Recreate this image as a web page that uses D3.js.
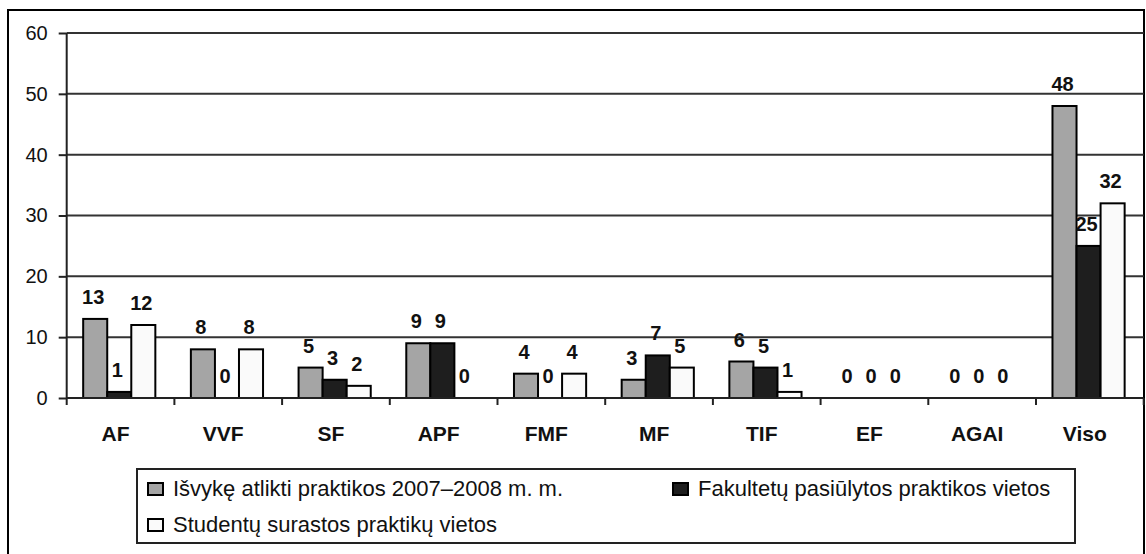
<!DOCTYPE html>
<html>
<head>
<meta charset="utf-8">
<script src="https://cdn.jsdelivr.net/npm/d3@7"></script>
<style>
  body { margin: 0; background: #fff; }
  text { font-family: "Liberation Sans", Arial, sans-serif; }
</style>
</head>
<body>
<script>
// data
var categories = ["AF", "VVF", "SF", "APF", "FMF", "MF", "TIF", "EF", "AGAI", "Viso"];
var seriesNames = ["Išvykę atlikti praktikos 2007–2008 m. m.",
                   "Fakultetų pasiūlytos praktikos vietos",
                   "Studentų surastos praktikų vietos"];
var wentOut = [13, 8, 5, 9, 4, 3, 6, 0, 0, 48];
var offered = [1, 0, 3, 9, 0, 7, 5, 0, 0, 25];
var foundByStudents = [12, 8, 2, 0, 4, 5, 1, 0, 0, 32];
var yTicks = [0, 10, 20, 30, 40, 50, 60];

var colors = ["#a5a5a5", "#1e1e1e", "#fafafa"];

var svgWidth = 1146, svgHeight = 554;
var plot = { left: 66.7, right: 1143.7, top: 33, bottom: 398 };

var svg = d3.select("body").append("svg")
  .attr("width", svgWidth)
  .attr("height", svgHeight);

var data = categories.map(function(c, i) {
  return { cat: c, values: [wentOut[i], offered[i], foundByStudents[i]] };
});

var xScale = d3.scaleBand()
  .domain(categories)
  .range([plot.left, plot.right]);

var xSub = d3.scaleBand()
  .domain([0, 1, 2])
  .range([xScale.bandwidth() * 0.153, xScale.bandwidth() * 0.823]);

var yScale = d3.scaleLinear()
  .domain([0, 60])
  .range([plot.bottom, plot.top]);

// outer frame
svg.append("rect")
  .attr("x", 8).attr("y", 10)
  .attr("width", 1136).attr("height", 548)
  .attr("fill", "none")
  .attr("stroke", "#000")
  .attr("stroke-width", 2);

// gridlines
svg.append("g")
  .selectAll("line")
  .data(yTicks.filter(d => d > 0))
  .enter()
  .append("line")
  .attr("x1", plot.left).attr("x2", plot.right)
  .attr("y1", d => yScale(d)).attr("y2", d => yScale(d))
  .attr("stroke", "#333")
  .attr("stroke-width", 2);

// bars
var groups = svg.append("g")
  .selectAll("g")
  .data(data)
  .enter()
  .append("g")
  .attr("transform", d => `translate(${xScale(d.cat)},0)`);

groups.selectAll("rect")
  .data(d => d.values.map((v, i) => ({ v: v, i: i })).filter(e => e.v > 0))
  .enter()
  .append("rect")
  .attr("x", d => xSub(d.i))
  .attr("y", d => yScale(d.v))
  .attr("width", xSub.bandwidth())
  .attr("height", d => yScale(0) - yScale(d.v))
  .attr("fill", d => colors[d.i])
  .attr("stroke", "#000")
  .attr("stroke-width", 2);

groups.selectAll("text")
  .data(d => d.values.map((v, i) => ({ v: v, i: i })))
  .enter()
  .append("text")
  .attr("x", d => xSub(d.i) + xSub.bandwidth() / 2 - 2)
  .attr("y", d => yScale(d.v) - 15)
  .attr("text-anchor", "middle")
  .attr("font-size", 20)
  .attr("font-weight", "bold")
  .attr("fill", "#111")
  .text(d => d.v);

// y axis
var leftAxis = d3.axisLeft(yScale)
  .tickValues(yTicks)
  .tickSize(8)
  .tickPadding(11);

var yAxis = svg.append("g")
  .attr("transform", `translate(${plot.left},0)`)
  .call(leftAxis);
yAxis.select(".domain").attr("stroke", "#222").attr("stroke-width", 2)
  .attr("d", `M0,${plot.top}V${plot.bottom + 7}`);
yAxis.selectAll(".tick line").attr("stroke", "#222").attr("stroke-width", 2);
yAxis.selectAll(".tick text")
  .attr("font-size", 20)
  .attr("fill", "#111")
  .style("font-family", "'Liberation Sans', Arial, sans-serif");

// x axis
var bottomAxis = d3.axisBottom(xScale)
  .tickSize(0)
  .tickPadding(28);

var xAxis = svg.append("g")
  .attr("transform", `translate(0,${plot.bottom})`)
  .call(bottomAxis);
xAxis.select(".domain").attr("stroke", "#222").attr("stroke-width", 2)
  .attr("d", `M${plot.left},0H${plot.right}`);
xAxis.selectAll(".tick text")
  .attr("x", -5)
  .attr("font-size", 21)
  .attr("font-weight", "bold")
  .attr("fill", "#111")
  .style("font-family", "'Liberation Sans', Arial, sans-serif");

// category separators under the axis
xAxis.selectAll(".sep")
  .data(categories)
  .enter()
  .append("line")
  .attr("x1", d => xScale(d) + xScale.bandwidth())
  .attr("x2", d => xScale(d) + xScale.bandwidth())
  .attr("y1", 0).attr("y2", 7)
  .attr("stroke", "#222")
  .attr("stroke-width", 2);

// legend
var legend = svg.append("g");
legend.append("rect")
  .attr("x", 137).attr("y", 469)
  .attr("width", 938).attr("height", 74)
  .attr("fill", "#fff")
  .attr("stroke", "#222")
  .attr("stroke-width", 2);

var legendPos = [
  { x: 148, y: 488 },
  { x: 673, y: 488 },
  { x: 148, y: 524 }
];

var items = legend.selectAll(".item")
  .data(seriesNames)
  .enter()
  .append("g")
  .attr("transform", (d, i) => `translate(${legendPos[i].x},${legendPos[i].y})`);

items.append("rect")
  .attr("x", 0).attr("y", -5)
  .attr("width", 15).attr("height", 12)
  .attr("fill", (d, i) => colors[i])
  .attr("stroke", "#000")
  .attr("stroke-width", 2);

items.append("text")
  .attr("x", 25)
  .attr("y", 0)
  .attr("dy", "0.35em")
  .attr("font-size", 22)
  .attr("fill", "#111")
  .text(d => d);
</script>
</body>
</html>
